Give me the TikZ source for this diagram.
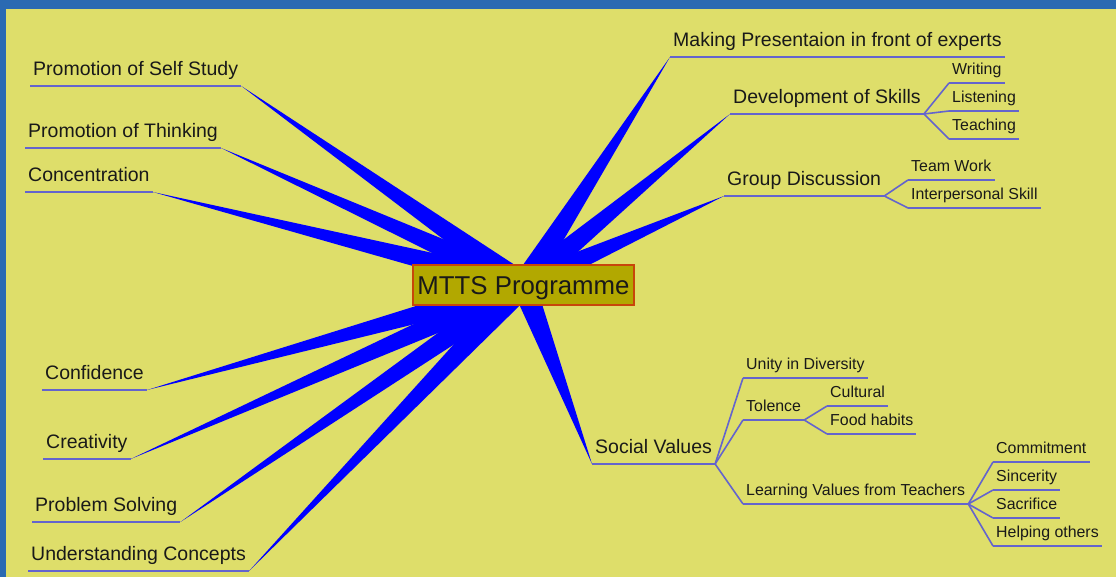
\documentclass[tikz,border=0pt]{standalone}
\usepackage{fontspec}
\setmainfont{Liberation Sans}
\usetikzlibrary{calc,backgrounds}

\definecolor{frame}{RGB}{42,106,178}
\definecolor{board}{RGB}{222,222,106}
\definecolor{spoke}{RGB}{0,0,255}
\definecolor{twig}{RGB}{100,100,205}
\definecolor{hubfill}{RGB}{178,168,0}
\definecolor{hubline}{RGB}{200,70,10}
\definecolor{ink}{RGB}{25,25,25}

\tikzset{
	topic/.style={anchor=south west, inner xsep=3pt, inner ysep=5pt, text depth=5pt,
		text=ink, font=\fontsize{19.5}{22}\selectfont},
	leaf/.style={anchor=south west, inner xsep=3pt, inner ysep=4pt, text depth=4pt,
		text=ink, font=\fontsize{15.9}{18}\selectfont},
	under/.style={twig, line width=1.6pt},
}

\begin{document}
\begin{tikzpicture}[x=1pt,y=-1pt]

	\begin{scope}[on background layer]
		\fill [frame] (0,0) rectangle (1116,577);
		\fill [board] (6,9) rectangle (1116,577);
	\end{scope}

	\node [draw=hubline, fill=hubfill, line width=1.2pt, minimum width=221pt, minimum height=40pt,
		inner sep=0pt, text depth=0pt, text=ink, font=\fontsize{25.8}{30}\selectfont] (mtts) at (523.5,285) {MTTS Programme};

	% left side
	\node [topic] (selfstudy) at (30,86) {Promotion of Self Study};
	\node [topic] (thinking) at (25,148) {Promotion of Thinking};
	\node [topic] (concentration) at (25,192) {Concentration};
	\node [topic] (confidence) at (42,390) {Confidence};
	\node [topic] (creativity) at (43,459) {Creativity};
	\node [topic] (problem) at (32,522) {Problem Solving};
	\node [topic] (concepts) at (28,571) {Understanding Concepts};

	% right side
	\node [topic] (presentation) at (670,57) {Making Presentaion in front of experts};
	\node [topic] (skills) at (730,114) {Development of Skills};
	\node [topic] (discussion) at (724,196) {Group Discussion};
	\node [topic] (values) at (592,464) {Social Values};

	\node [leaf] (writing) at (949,83) {Writing};
	\node [leaf] (listening) at (949,111) {Listening};
	\node [leaf] (teaching) at (949,139) {Teaching};

	\node [leaf] (teamwork) at (908,180) {Team Work};
	\node [leaf] (interpersonal) at (908,208) {Interpersonal Skill};

	\node [leaf] (unity) at (743,378) {Unity in Diversity};
	\node [leaf] (tolence) at (743,420) {Tolence};
	\node [leaf] (learning) at (743,504) {Learning Values from Teachers};

	\node [leaf] (cultural) at (827,406) {Cultural};
	\node [leaf] (food) at (827,434) {Food habits};

	\node [leaf] (commitment) at (993,462) {Commitment};
	\node [leaf] (sincerity) at (993,490) {Sincerity};
	\node [leaf] (sacrifice) at (993,518) {Sacrifice};
	\node [leaf] (helping) at (993,546) {Helping others};

	% thick spokes out of the hub
	\begin{scope}[on background layer]
		\foreach \t in {selfstudy,thinking,concentration,confidence,creativity,problem,concepts}
			\fill [spoke] (\t.south east) -- ($(mtts.center)!12pt!90:(\t.south east)$)
				-- ($(mtts.center)!12pt!-90:(\t.south east)$) -- cycle;
		\foreach \t in {presentation,skills,discussion,values}
			\fill [spoke] (\t.south west) -- ($(mtts.center)!12pt!90:(\t.south west)$)
				-- ($(mtts.center)!12pt!-90:(\t.south west)$) -- cycle;
	\end{scope}

	\foreach \t in {selfstudy,thinking,concentration,confidence,creativity,problem,concepts,
			presentation,skills,discussion,values,writing,listening,teaching,teamwork,interpersonal,
			unity,tolence,learning,cultural,food,commitment,sincerity,sacrifice,helping}
		\draw [under] (\t.south west) -- (\t.south east);

	\foreach \a/\b in {skills/writing,skills/listening,skills/teaching,
			discussion/teamwork,discussion/interpersonal,
			values/unity,values/tolence,values/learning,
			tolence/cultural,tolence/food,
			learning/commitment,learning/sincerity,learning/sacrifice,learning/helping}
		\draw [under] (\a.south east) -- (\b.south west);

\end{tikzpicture}
\end{document}
